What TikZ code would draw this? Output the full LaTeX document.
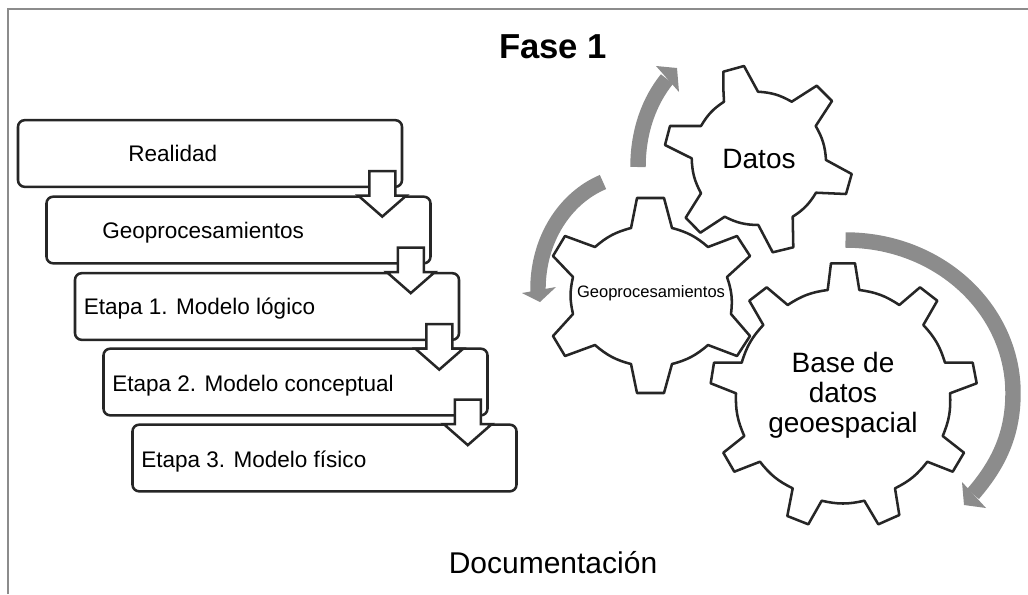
\documentclass[tikz,border=0pt]{standalone}
\usepackage{fontspec}
\setmainfont{Liberation Sans}
\usetikzlibrary{calc}
\definecolor{grisciclo}{HTML}{8C8C8C}
\tikzset{
 caja/.style={draw=black!85, line width=1.9pt, rounded corners=5pt, minimum width=288pt, minimum height=50pt, inner sep=0},
 etiqueta/.style={anchor=base west, inner sep=0, font=\fontsize{16.9}{20}\selectfont},
 flecha/.style={draw=black!85, line width=1.9pt, fill=white, line join=miter},
 engrane/.style={draw=black!85, line width=1.9pt, line join=round},
 arco/.style={bend left=13},
 ciclo/.style={draw=grisciclo, line width=11.6pt},
 punta/.style={fill=grisciclo},
 engranetxt/.style={align=center, inner sep=0, font=\fontsize{21}{22.5}\selectfont}
}
\begin{document}
\begin{tikzpicture}[x=.75pt, y=-.75pt]
\useasboundingbox (0,0) rectangle (1028,594);
\draw[gray!90, line width=1.1pt] (8,594)--(8,9)--(1028,9);
\node[inner sep=0, font=\fontsize{26}{30}\bfseries\selectfont] (titulo) at (553,47) {Fase 1};
\node[inner sep=0, font=\fontsize{22.5}{26}\selectfont] (documentacion) at (553,563) {Documentación};

% cajas de la izquierda
\foreach \i/\x/\y in {1/210/153.5, 2/238.5/230, 3/267/306.5, 4/295.5/382, 5/324.5/458} {
 \node[caja] (caja\i) at (\x,\y) {};
}
\node[etiqueta] (realidad) at (128,161.5) {Realidad};
\node[etiqueta] (geo) at (102,238) {Geoprocesamientos};
\node[etiqueta] (etapa1) at (83.5,314.5) {Etapa 1. Modelo lógico};
\node[etiqueta] (etapa2) at (112,391) {Etapa 2. Modelo conceptual};
\node[etiqueta] (etapa3) at (141,467.5) {Etapa 3. Modelo físico};
\foreach \i in {1,2,3,4} {
 \draw[flecha] ($(caja\i.south east)+(-34,-17)$) --++(26,0) --++(0,24.5) --++(11,0) --++(-24,21) --++(-24,-21) --++(11,0) --cycle;
}

% engranes
\draw[engrane] (723.3,88) -- (723.3,71.7) -- (744,66) -- (758,91.7) to[arco] (791.7,101.7) -- (816.7,85.7) -- (832,101) -- (815.7,126)
 to[arco] (826,160) -- (851.7,174) -- (846,194) -- (816,192.7) to[arco] (792.7,216.7) -- (793.3,247.3) -- (772.7,252.3) -- (758.3,225)
 to[arco] (724.7,216.7) -- (700.3,232.7) -- (685.7,217.7) -- (701,193.3) to[arco] (691.7,158.3) -- (665,145) -- (670,126) -- (701,126)
 to[arco] (724,101.7) -- cycle;
\node[engranetxt] (datos) at (759,159) {Datos};

\draw[engrane] (637,198) -- (664,198) -- (672,228) to[arco] (708,247) -- (737,236) -- (750,256) -- (727,277)
 to[arco] (731,314) -- (750,336) -- (737,356) -- (708,345) to[arco] (672,364) -- (664,393) -- (637,393) -- (631,364)
 to[arco] (595,345) -- (565,356) -- (553,336) -- (573,314) to[arco] (573,277) -- (553,256) -- (565,236) -- (595,247)
 to[arco] (631,228) -- cycle;
\node[inner sep=0, font=\fontsize{12.4}{14}\selectfont] (geoengrane) at (651,293) {Geoprocesamientos};

\draw[engrane] (831,263.3) -- (855,263.3) -- (859.3,290) to[arco] (899.3,305) -- (920,287.3) -- (937.3,300.7) -- (923.3,325)
 to[arco] (945,362.7) -- (972.7,362.7) -- (976.7,383.3) -- (950,393.3) to[arco] (942.7,436) -- (964,452.7) -- (952.7,471.7) -- (927.3,461.7)
 to[arco] (895,488.3) -- (899.3,515) -- (878.3,524.3) -- (864.3,500.7) to[arco] (821.7,500.7) -- (808.3,524.3) -- (787.3,516) -- (792.7,488.3)
 to[arco] (760,461.7) -- (734.3,471.7) -- (723.3,452.7) -- (744.3,436) to[arco] (736,393.3) -- (710.7,383.3) -- (714,362.7) -- (741.7,362.7)
 to[arco] (763.3,325) -- (749.3,300.7) -- (766.7,287.3) -- (787.7,305) to[arco] (827.7,290) -- cycle;
\node[engranetxt] (base) at (843,395) {Base de\\datos\\geoespacial};

% flechas grises
\draw[ciclo] (638,167) .. controls (638,130) and (650,100) .. (667,79);
\fill[punta] (656,66) -- (677,68) -- (679,92) -- cycle;
\draw[ciclo] (603,182) .. controls (565,198) and (537,240) .. (538,292);
\fill[punta] (522,293) -- (556,287) -- (540,302) -- cycle;
\draw[ciclo] (845.5,240) .. controls (940,240) and (1013,310) .. (1013,393) .. controls (1013,435) and (998,465) .. (973,494);
\fill[punta] (962,482) -- (986,508) -- (964,505) -- cycle;
\end{tikzpicture}
\end{document}
